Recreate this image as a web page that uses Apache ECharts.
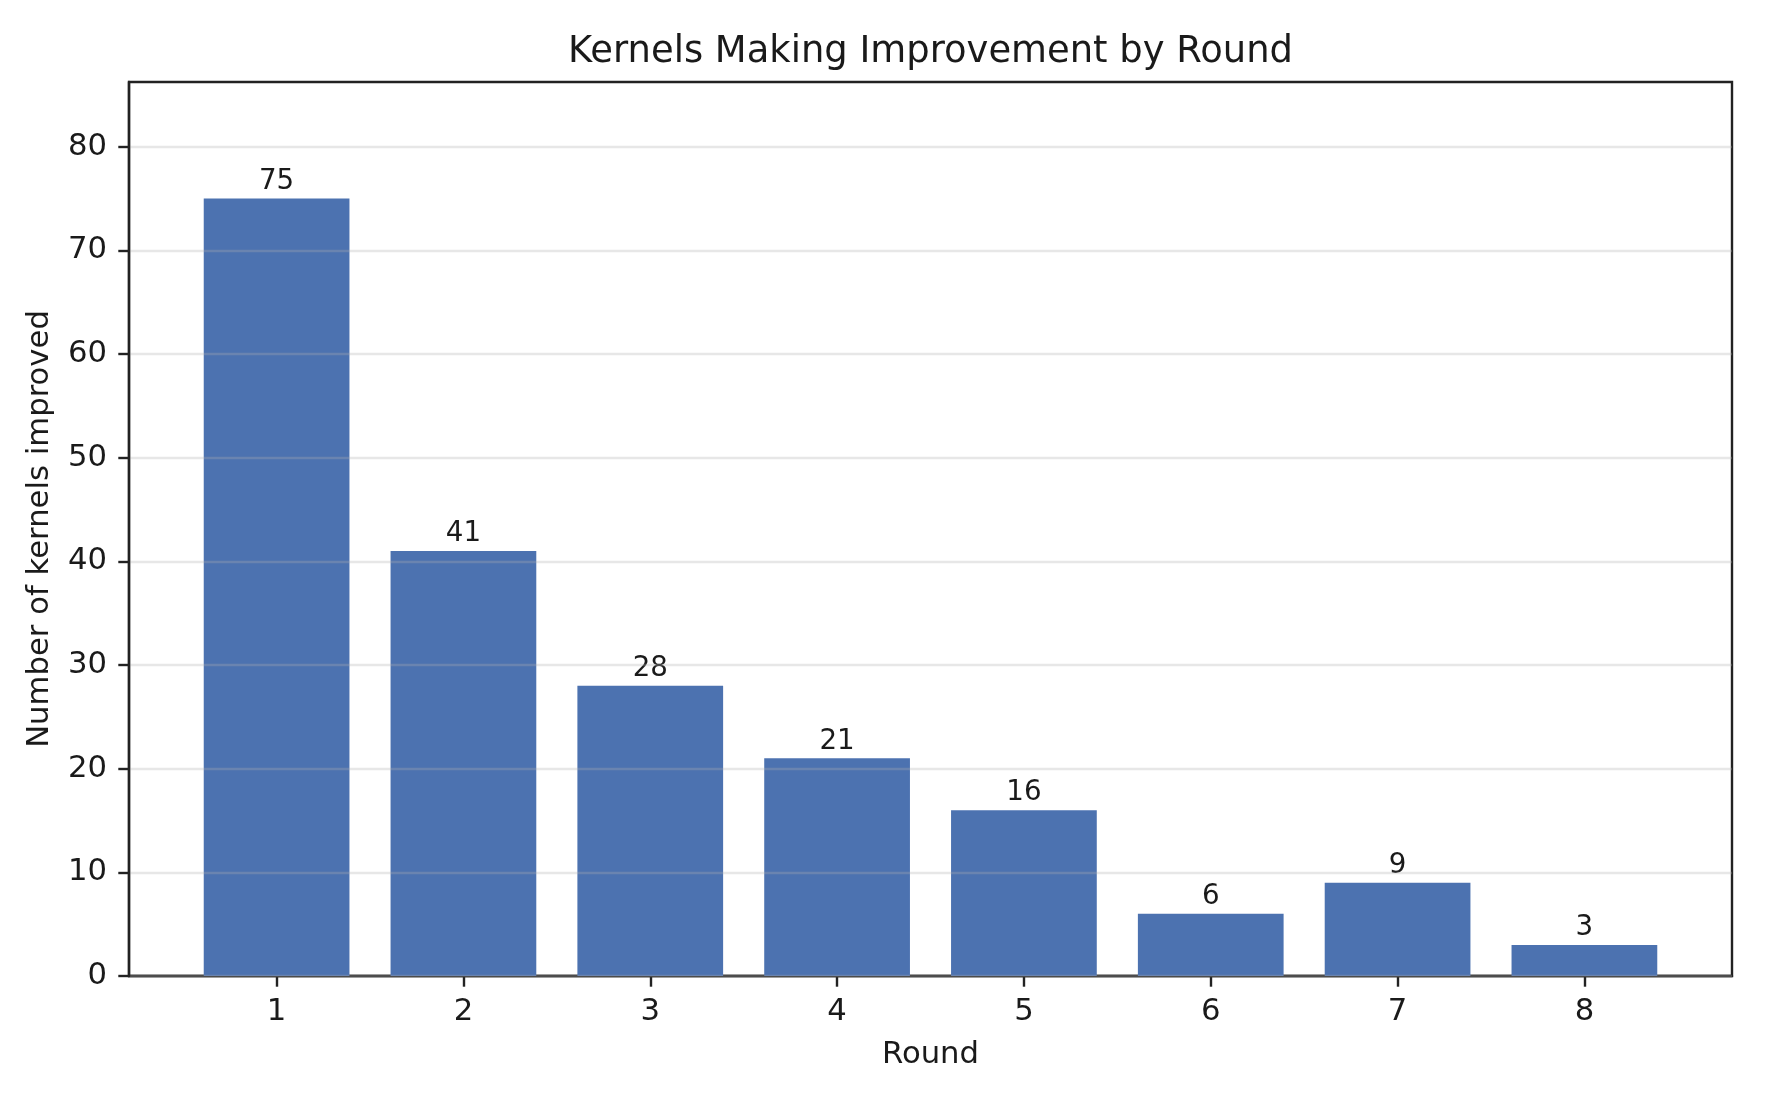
<!DOCTYPE html>
<html>
<head>
<meta charset="utf-8">
<script src="https://cdn.jsdelivr.net/npm/echarts@6/dist/echarts.min.js"></script>
<style>
  html, body { margin: 0; padding: 0; background: #fff; }
  #chart { width: 1772px; height: 1104px; }
</style>
</head>
<body>
<div id="chart"></div>
<script>
const titleText = 'Kernels Making Improvement by Round';
const xAxisTitle = 'Round';
const yAxisTitle = 'Number of kernels improved';
const rounds = [1, 2, 3, 4, 5, 6, 7, 8];
const kernelsImproved = [75, 41, 28, 21, 16, 6, 9, 3];
const yTicks = [0, 10, 20, 30, 40, 50, 60, 70, 80];
const xTicks = [1, 2, 3, 4, 5, 6, 7, 8];

const FONT = 'DejaVu Sans';
const INK = '#1a1a1a';
const SPINE = '#222222';

const chart = echarts.init(document.getElementById('chart'));
chart.setOption({
  animation: false,
  backgroundColor: '#ffffff',
  title: {
    text: titleText,
    left: 563,
    top: 29,
    textStyle: { fontFamily: FONT, fontSize: 36.9, fontWeight: 'normal', color: INK }
  },
  grid: {
    left: 129, right: 40, top: 82, bottom: 128,
    show: true, borderColor: SPINE, borderWidth: 2.4, backgroundColor: 'transparent'
  },
  xAxis: {
    type: 'value',
    min: 0.21,
    max: 8.79,
    name: xAxisTitle,
    nameLocation: 'middle',
    nameGap: 64,
    nameTextStyle: { fontFamily: FONT, fontSize: 30.7, color: INK },
    axisLine: { show: true, lineStyle: { color: SPINE, width: 2.4 } },
    axisTick: { show: true, length: 10.7, lineStyle: { color: SPINE, width: 2.4 }, customValues: xTicks },
    axisLabel: { fontFamily: FONT, fontSize: 30.7, color: INK, margin: 21, customValues: xTicks },
    splitLine: { show: false }
  },
  yAxis: {
    type: 'value',
    min: 0,
    max: 86.25,
    z: 5,
    name: yAxisTitle,
    nameLocation: 'middle',
    nameGap: 73,
    nameTextStyle: { fontFamily: FONT, fontSize: 30.7, color: INK },
    axisLine: { show: true, lineStyle: { color: SPINE, width: 2.4 } },
    axisTick: { show: true, length: 10.7, lineStyle: { color: SPINE, width: 2.4 }, customValues: yTicks },
    axisLabel: { fontFamily: FONT, fontSize: 30.7, color: INK, margin: 22, customValues: yTicks },
    splitLine: { show: true, lineStyle: { color: 'rgba(176,176,176,0.3)', width: 2.4 } }
  },
  series: [{
    type: 'bar',
    data: rounds.map((r, i) => [r, kernelsImproved[i]]),
    barWidth: '78%',
    itemStyle: { color: '#4C72B0' },
    label: {
      show: true,
      position: 'top',
      distance: 3,
      fontFamily: FONT,
      fontSize: 27.7,
      color: INK,
      formatter: p => String(p.value[1])
    }
  }]
});
</script>
</body>
</html>
